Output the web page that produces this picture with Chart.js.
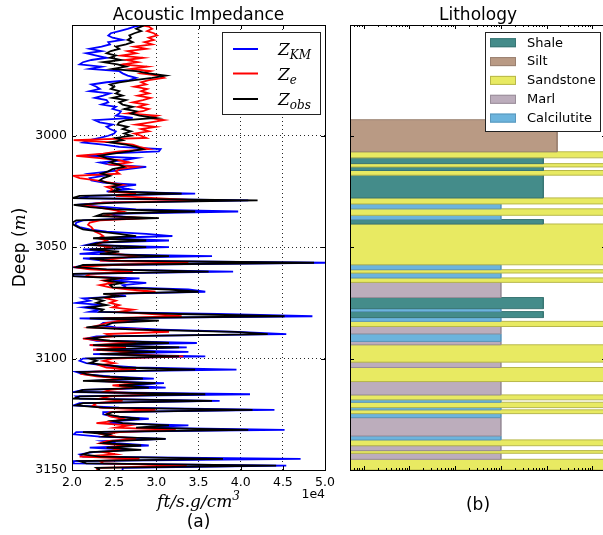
<!DOCTYPE html>
<html>
<head>
<meta charset="utf-8">
<script src="https://cdn.jsdelivr.net/npm/chart.js@4.4.1/dist/chart.umd.min.js"></script>
<style>
  html, body { margin: 0; padding: 0; background: #fff; overflow: hidden; width: 603px; height: 535px; }
  #imp { position: absolute; left: 0; top: 0; }
  #lith { position: absolute; left: 340px; top: 0; }
</style>
</head>
<body>
<canvas id="imp" width="340" height="535"></canvas>
<canvas id="lith" width="280" height="535"></canvas>
<script>
// ---- acoustic impedance logs (x 1e4 ft/s.g/cm3), one sample per metre ----
const depth = [
  2950, 2951, 2952, 2953, 2954, 2955, 2956, 2957, 2958, 2959,
  2960, 2961, 2962, 2963, 2964, 2965, 2966, 2967, 2968, 2969,
  2970, 2971, 2972, 2973, 2974, 2975, 2976, 2977, 2978, 2979,
  2980, 2981, 2982, 2983, 2984, 2985, 2986, 2987, 2988, 2989,
  2990, 2991, 2992, 2993, 2994, 2995, 2996, 2997, 2998, 2999,
  3000, 3001, 3002, 3003, 3004, 3005, 3006, 3007, 3008, 3009,
  3010, 3011, 3012, 3013, 3014, 3015, 3016, 3017, 3018, 3019,
  3020, 3021, 3022, 3023, 3024, 3025, 3026, 3027, 3028, 3029,
  3030, 3031, 3032, 3033, 3034, 3035, 3036, 3037, 3038, 3039,
  3040, 3041, 3042, 3043, 3044, 3045, 3046, 3047, 3048, 3049,
  3050, 3051, 3052, 3053, 3054, 3055, 3056, 3057, 3058, 3059,
  3060, 3061, 3062, 3063, 3064, 3065, 3066, 3067, 3068, 3069,
  3070, 3071, 3072, 3073, 3074, 3075, 3076, 3077, 3078, 3079,
  3080, 3081, 3082, 3083, 3084, 3085, 3086, 3087, 3088, 3089,
  3090, 3091, 3092, 3093, 3094, 3095, 3096, 3097, 3098, 3099,
  3100, 3101, 3102, 3103, 3104, 3105, 3106, 3107, 3108, 3109,
  3110, 3111, 3112, 3113, 3114, 3115, 3116, 3117, 3118, 3119,
  3120, 3121, 3122, 3123, 3124, 3125, 3126, 3127, 3128, 3129,
  3130, 3131, 3132, 3133, 3134, 3135, 3136, 3137, 3138, 3139,
  3140, 3141, 3142, 3143, 3144, 3145, 3146, 3147, 3148, 3149,
  3150
];

const zKM = [
  2.88, 2.74, 2.66, 2.56, 2.46, 2.43, 2.48, 2.60, 2.43, 2.45,
  2.35, 2.21, 2.35, 2.17, 2.29, 2.41, 2.23, 2.13, 2.09, 2.35,
  2.21, 2.56, 2.60, 2.66, 2.76, 2.68, 2.41, 2.23, 2.29, 2.33,
  2.21, 2.45, 2.37, 2.27, 2.41, 2.43, 2.35, 2.52, 2.48, 2.58,
  2.56, 2.52, 2.72, 2.27, 2.33, 2.48, 2.41, 2.45, 2.52, 2.50,
  2.43, 2.33, 2.21, 2.13, 2.37, 2.56, 3.05, 3.03, 2.41, 2.17,
  2.76, 2.60, 2.33, 2.45, 2.88, 2.66, 2.45, 2.21, 2.37, 2.21,
  2.23, 2.37, 2.76, 2.52, 2.68, 2.41, 3.46, 2.21, 2.09, 4.09,
  2.37, 2.05, 2.41, 2.76, 3.97, 2.45, 2.52, 2.80, 2.13, 2.05,
  2.04, 2.09, 2.21, 2.41, 2.88, 3.19, 2.33, 3.15, 2.29, 2.17,
  3.15, 2.13, 2.41, 2.09, 3.66, 2.13, 2.37, 5.00, 2.21, 2.02,
  2.33, 3.91, 2.00, 2.02, 2.80, 2.48, 2.88, 2.60, 2.64, 3.38,
  3.58, 2.45, 2.64, 2.13, 2.21, 2.05, 2.37, 2.13, 2.33, 2.21,
  3.73, 4.85, 2.09, 2.91, 2.37, 2.33, 2.52, 3.07, 3.97, 4.54,
  2.29, 2.17, 2.29, 3.48, 2.21, 3.36, 2.25, 3.38, 2.25, 3.58,
  2.13, 2.09, 2.17, 2.37, 2.76, 3.95, 2.05, 2.13, 2.45, 2.97,
  2.21, 3.09, 2.64, 3.11, 2.13, 2.02, 4.11, 2.05, 2.09, 3.75,
  2.09, 2.02, 2.56, 4.40, 2.37, 2.37, 2.48, 2.91, 2.56, 2.45,
  3.38, 2.84, 4.52, 2.05, 2.02, 2.33, 3.11, 2.37, 2.52, 2.91,
  2.21, 2.68, 2.25, 2.09, 2.13, 4.71, 2.02, 2.02, 4.54, 2.60,
  2.60
];

const zE = [
  2.76, 2.91, 2.95, 2.89, 2.97, 3.01, 2.91, 2.97, 2.86, 2.95,
  2.74, 2.88, 2.66, 2.76, 2.58, 2.84, 2.64, 2.78, 2.60, 2.89,
  2.70, 2.93, 2.82, 3.03, 3.09, 2.91, 2.82, 2.88, 2.74, 2.89,
  2.82, 2.91, 2.78, 2.93, 2.84, 2.72, 2.88, 2.78, 2.91, 2.84,
  2.66, 3.01, 2.91, 3.09, 2.93, 2.76, 2.99, 2.82, 2.91, 2.74,
  2.82, 2.88, 2.02, 2.48, 2.72, 2.80, 2.91, 2.56, 2.37, 2.05,
  2.33, 2.56, 2.68, 2.48, 2.76, 2.56, 2.52, 2.56, 2.02, 2.09,
  2.29, 2.45, 2.60, 2.41, 2.48, 2.45, 2.76, 2.52, 2.99, 3.50,
  2.37, 2.13, 2.29, 2.45, 2.60, 2.48, 2.37, 2.91, 2.33, 2.21,
  2.19, 2.23, 2.25, 2.27, 2.33, 2.37, 2.31, 2.41, 2.35, 2.27,
  2.45, 2.37, 2.41, 2.52, 2.76, 2.56, 2.33, 3.38, 2.48, 2.02,
  2.21, 2.72, 2.21, 2.17, 2.56, 2.37, 2.48, 2.33, 2.45, 2.68,
  2.99, 2.45, 2.48, 2.41, 2.52, 2.45, 2.56, 2.48, 2.72, 2.56,
  2.95, 3.30, 2.37, 2.64, 2.41, 2.33, 2.21, 2.84, 3.15, 2.41,
  2.48, 2.13, 2.37, 2.76, 2.21, 2.64, 2.25, 2.68, 2.52, 3.32,
  2.48, 2.37, 2.50, 2.33, 2.41, 2.76, 2.21, 2.13, 2.29, 2.60,
  2.33, 2.80, 2.48, 2.72, 2.45, 2.37, 3.05, 2.45, 2.33, 2.60,
  2.29, 2.25, 2.33, 2.99, 2.45, 2.41, 2.45, 2.60, 2.52, 2.29,
  2.68, 2.52, 3.23, 2.56, 2.37, 2.52, 2.76, 2.41, 2.33, 2.64,
  2.45, 2.56, 2.37, 2.52, 2.09, 2.80, 2.33, 2.37, 3.36, 2.33,
  2.29
];

const zObs = [
  2.88, 2.82, 2.76, 2.82, 2.74, 2.68, 2.70, 2.66, 2.72, 2.64,
  2.52, 2.56, 2.46, 2.41, 2.52, 2.45, 2.58, 2.37, 2.54, 2.64,
  2.48, 2.76, 2.91, 3.11, 2.95, 2.74, 2.56, 2.45, 2.50, 2.46,
  2.56, 2.52, 2.60, 2.48, 2.64, 2.56, 2.60, 2.72, 2.62, 2.76,
  2.70, 2.80, 2.99, 2.64, 2.56, 2.54, 2.66, 2.60, 2.70, 2.62,
  2.70, 2.52, 2.60, 2.45, 2.64, 2.76, 2.84, 2.68, 2.48, 2.33,
  2.41, 2.52, 2.45, 2.56, 2.62, 2.48, 2.43, 2.35, 2.45, 2.37,
  2.33, 2.41, 2.56, 2.48, 2.56, 2.48, 3.30, 2.09, 2.00, 4.20,
  2.52, 2.02, 2.21, 2.52, 3.46, 2.37, 2.29, 3.03, 2.05, 2.00,
  2.02, 2.07, 2.13, 2.33, 2.56, 2.76, 2.25, 2.88, 2.33, 2.21,
  2.88, 2.21, 2.56, 2.33, 3.15, 2.21, 2.45, 4.87, 2.13, 2.05,
  2.41, 3.62, 2.02, 2.00, 2.56, 2.41, 2.60, 2.45, 2.48, 3.15,
  3.50, 2.37, 2.56, 2.25, 2.37, 2.29, 2.41, 2.21, 2.37, 2.33,
  3.27, 4.52, 2.21, 3.03, 2.48, 2.41, 2.17, 2.76, 3.93, 4.32,
  2.41, 2.21, 2.45, 3.15, 2.25, 3.27, 2.29, 2.99, 2.33, 3.27,
  2.21, 2.29, 2.21, 2.45, 2.60, 3.46, 2.09, 2.17, 2.37, 2.84,
  2.13, 2.99, 2.56, 2.91, 2.13, 2.05, 3.58, 2.09, 2.02, 3.66,
  2.13, 2.05, 2.37, 4.14, 2.48, 2.41, 2.56, 2.80, 2.48, 2.60,
  3.15, 2.76, 4.09, 2.13, 2.45, 2.37, 3.11, 2.48, 2.37, 2.82,
  2.41, 2.82, 2.21, 2.13, 2.33, 3.79, 2.09, 2.17, 4.42, 2.29,
  2.33
];

const impTicks = [2.0, 2.5, 3.0, 3.5, 4.0, 4.5, 5.0];
const depthTicks = [3000, 3050, 3100, 3150];
const depthMin = 2950.3;
const depthMax = 3150;

// ---- lithology column ----
const lithNames = ['Shale', 'Silt', 'Sandstone', 'Marl', 'Calcilutite'];
const lithColors = ['#448c8a', '#b99a84', '#e8ea62', '#bcadbc', '#6cb4dd'];
const lithEdges = ['#3a7674', '#9a8070', '#b8b84a', '#9a8e9a', '#5a98bd'];
const lithLength = [8500, 17000, 1000000, 1000, 1000];
const lithMin = 0.5;
const lithMax = 200000;
const logDecades = [0.1, 1, 10, 100, 1000, 10000, 100000];
const logSteps = [1, 2, 3, 4, 5, 6, 7, 8, 9];

const layerTop = [
  2992.8, 3007.2, 3009.9, 3012.5, 3014.0, 3015.6, 3017.7, 3027.9, 3030.6, 3032.8,
  3035.7, 3037.6, 3039.6, 3057.9, 3060.1, 3061.6, 3063.8, 3065.8, 3072.6, 3077.6,
  3078.9, 3081.6, 3083.3, 3085.6, 3088.9, 3092.3, 3093.8, 3101.6, 3104.0, 3110.3,
  3116.3, 3118.5, 3119.6, 3122.0, 3123.0, 3124.7, 3126.5, 3134.7, 3136.5, 3139.1,
  3141.3, 3142.5, 3145.2
];
const layerBase = [
  3007.2, 3009.9, 3012.5, 3014.0, 3015.6, 3017.7, 3027.9, 3030.6, 3032.8, 3035.7,
  3037.6, 3039.6, 3057.9, 3060.1, 3061.6, 3063.8, 3065.8, 3072.6, 3077.6, 3078.9,
  3081.6, 3083.3, 3085.6, 3088.9, 3092.3, 3093.8, 3101.6, 3104.0, 3110.3, 3116.3,
  3118.5, 3119.6, 3122.0, 3123.0, 3124.7, 3126.5, 3134.7, 3136.5, 3139.1, 3141.3,
  3142.5, 3145.2, 3150.0
];
const layerType = [
  'Silt', 'Sandstone', 'Shale', 'Sandstone', 'Shale', 'Sandstone', 'Shale', 'Sandstone', 'Calcilutite', 'Sandstone',
  'Calcilutite', 'Shale', 'Sandstone', 'Calcilutite', 'Sandstone', 'Calcilutite', 'Sandstone', 'Marl', 'Shale', 'Calcilutite',
  'Shale', 'Calcilutite', 'Sandstone', 'Marl', 'Calcilutite', 'Marl', 'Sandstone', 'Marl', 'Sandstone', 'Marl',
  'Sandstone', 'Calcilutite', 'Sandstone', 'Calcilutite', 'Sandstone', 'Calcilutite', 'Marl', 'Calcilutite', 'Sandstone', 'Marl',
  'Sandstone', 'Marl', 'Sandstone'
];

const sansFont = '"DejaVu Sans", sans-serif';
const mathFont = '"DejaVu Serif", serif';

// draws a row of text pieces [text, font, dy] starting at x (aligned) on baseline y
function drawParts(ctx, parts, x, y, align) {
  let total = 0;
  parts.forEach(p => { ctx.font = p[1]; total += ctx.measureText(p[0]).width; });
  let cx = align === 'center' ? x - total / 2 : (align === 'right' ? x - total : x);
  ctx.textAlign = 'left';
  ctx.textBaseline = 'alphabetic';
  parts.forEach(p => {
    ctx.font = p[1];
    ctx.fillText(p[0], cx, y + (p[2] || 0));
    cx += ctx.measureText(p[0]).width;
  });
}

function drawFrame(ctx, area) {
  ctx.save();
  ctx.strokeStyle = '#000';
  ctx.lineWidth = 1;
  ctx.strokeRect(Math.floor(area.left) + 0.5, Math.floor(area.top) + 0.5,
    Math.round(area.right - area.left), Math.round(area.bottom - area.top));
  ctx.restore();
}

function tickX(ctx, area, px, len) {
  const x = Math.round(px) + 0.5;
  ctx.beginPath();
  ctx.moveTo(x, area.bottom); ctx.lineTo(x, area.bottom - len);
  ctx.moveTo(x, area.top); ctx.lineTo(x, area.top + len);
  ctx.stroke();
}

function tickY(ctx, area, py, len) {
  const y = Math.round(py) + 0.5;
  ctx.beginPath();
  ctx.moveTo(area.left, y); ctx.lineTo(area.left + len, y);
  ctx.moveTo(area.right, y); ctx.lineTo(area.right - len, y);
  ctx.stroke();
}

// ---------------- left panel ----------------
const impDecor = {
  id: 'impDecor',
  afterDraw(chart) {
    const ctx = chart.ctx;
    const area = chart.chartArea;
    const xs = chart.scales.x, ys = chart.scales.y;
    drawFrame(ctx, area);

    ctx.save();
    ctx.strokeStyle = '#000';
    ctx.lineWidth = 1;
    impTicks.forEach(v => tickX(ctx, area, xs.getPixelForValue(v), 4));
    depthTicks.forEach(v => tickY(ctx, area, ys.getPixelForValue(v), 4));

    // legend
    ctx.fillStyle = '#fff';
    ctx.fillRect(222, 32, 98, 82);
    ctx.strokeStyle = '#222';
    ctx.strokeRect(222.5, 32.5, 98, 82);
    const entries = [
      [chart.data.datasets[2].borderColor, [['Z', 'italic 17px ' + mathFont], ['KM', 'italic 12px ' + mathFont, 4]]],
      [chart.data.datasets[1].borderColor, [['Z', 'italic 17px ' + mathFont], ['e', 'italic 12px ' + mathFont, 4]]],
      [chart.data.datasets[0].borderColor, [['Z', 'italic 17px ' + mathFont], ['obs', 'italic 12px ' + mathFont, 4]]]
    ];
    const rowY = [49, 73.5, 99];
    entries.forEach((e, i) => {
      ctx.strokeStyle = e[0];
      ctx.lineWidth = 2;
      ctx.beginPath();
      ctx.moveTo(233, rowY[i]); ctx.lineTo(258, rowY[i]);
      ctx.stroke();
      ctx.fillStyle = '#000';
      drawParts(ctx, e[1], 278, rowY[i] + 6, 'left');
    });

    // titles and labels
    ctx.fillStyle = '#000';
    const cx = (area.left + area.right) / 2;
    drawParts(ctx, [['Acoustic Impedance', '17px ' + sansFont]], cx, 20, 'center');
    drawParts(ctx, [['ft/s.g/cm', 'italic 17px ' + mathFont], ['3', 'italic 12px ' + mathFont, -7]], cx, 507, 'center');
    drawParts(ctx, [['(a)', '17px ' + sansFont]], cx, 527, 'center');
    drawParts(ctx, [['1e4', '12.5px ' + sansFont]], area.right, 498, 'right');

    ctx.translate(25, (area.top + area.bottom) / 2);
    ctx.rotate(-Math.PI / 2);
    drawParts(ctx, [['Deep (', '17px ' + sansFont], ['m', 'italic 17px ' + mathFont], [')', '17px ' + sansFont]], 0, 0, 'center');
    ctx.restore();
  }
};

const lineSet = (label, values, color, order) => ({
  label,
  data: depth.map((d, i) => ({ x: values[i], y: d })),
  borderColor: color,
  backgroundColor: color,
  borderWidth: 1.8,
  pointRadius: 0,
  tension: 0,
  fill: false,
  order
});

new Chart(document.getElementById('imp'), {
  type: 'line',
  data: {
    datasets: [
      lineSet('Z_obs', zObs, '#000000', 0),
      lineSet('Z_e', zE, '#ff0000', 1),
      lineSet('Z_KM', zKM, '#0000ff', 2)
    ]
  },
  options: {
    indexAxis: 'y',
    responsive: false,
    animation: false,
    events: [],
    layout: { padding: { top: 25, right: 12, left: 0, bottom: 0 } },
    plugins: { legend: { display: false }, tooltip: { enabled: false } },
    scales: {
      x: {
        type: 'linear',
        position: 'bottom',
        min: 2.0,
        max: 5.0,
        afterBuildTicks: s => { s.ticks = impTicks.map(v => ({ value: v })); },
        afterFit: s => { s.height = 65; },
        ticks: {
          color: '#000',
          padding: 5,
          maxRotation: 0,
          font: { family: sansFont, size: 12.5 },
          callback: v => Number(v).toFixed(1)
        },
        grid: { color: 'rgba(0,0,0,0.85)', lineWidth: 1, drawTicks: false },
        border: { display: false, dash: [1, 3] }
      },
      y: {
        type: 'linear',
        reverse: true,
        min: depthMin,
        max: depthMax,
        afterBuildTicks: s => { s.ticks = depthTicks.map(v => ({ value: v })); },
        afterFit: s => { s.width = 72; },
        ticks: {
          color: '#000',
          padding: 5,
          font: { family: sansFont, size: 12.5 },
          callback: v => String(v)
        },
        grid: { color: 'rgba(0,0,0,0.85)', lineWidth: 1, drawTicks: false },
        border: { display: false, dash: [1, 3] }
      }
    }
  },
  plugins: [impDecor]
});

// ---------------- right panel ----------------
const lithDecor = {
  id: 'lithDecor',
  afterDraw(chart) {
    const ctx = chart.ctx;
    const area = chart.chartArea;
    const xs = chart.scales.x, ys = chart.scales.y;
    drawFrame(ctx, area);

    ctx.save();
    ctx.strokeStyle = '#000';
    ctx.lineWidth = 1;
    logDecades.forEach(dec => {
      logSteps.forEach(m => {
        const v = dec * m;
        if (v < lithMin || v > lithMax) return;
        tickX(ctx, area, xs.getPixelForValue(v), m === 1 ? 4 : 2);
      });
    });
    depthTicks.forEach(v => tickY(ctx, area, ys.getPixelForValue(v), 4));

    // legend
    ctx.fillStyle = '#fff';
    ctx.fillRect(145, 32, 115, 99);
    ctx.strokeStyle = '#222';
    ctx.strokeRect(145.5, 32.5, 115, 99);
    const rowY = [42.7, 61.6, 80.4, 99.3, 118.1];
    lithNames.forEach((n, i) => {
      ctx.fillStyle = lithColors[i];
      ctx.fillRect(150, rowY[i] - 4.5, 26, 9);
      ctx.strokeStyle = lithEdges[i];
      ctx.strokeRect(150.5, rowY[i] - 4, 25, 8);
      ctx.fillStyle = '#000';
      ctx.font = '13px ' + sansFont;
      ctx.textAlign = 'left';
      ctx.textBaseline = 'middle';
      ctx.fillText(n, 187, rowY[i] + 0.5);
    });

    ctx.fillStyle = '#000';
    const cx = (area.left + area.right) / 2;
    drawParts(ctx, [['Lithology', '17px ' + sansFont]], cx, 20, 'center');
    drawParts(ctx, [['(b)', '17px ' + sansFont]], cx, 510, 'center');
    ctx.restore();
  }
};

const layerSets = layerTop.map((top, i) => {
  const k = lithNames.indexOf(layerType[i]);
  const w = lithLength[k];
  return {
    label: layerType[i],
    data: [
      { x: lithMin, y: top },
      { x: w, y: top },
      { x: w, y: layerBase[i] },
      { x: lithMin, y: layerBase[i] }
    ],
    backgroundColor: lithColors[k],
    borderColor: lithEdges[k],
    borderWidth: 1,
    pointRadius: 0,
    tension: 0,
    fill: { value: lithMin }
  };
});

new Chart(document.getElementById('lith'), {
  type: 'line',
  data: { datasets: layerSets },
  options: {
    indexAxis: 'y',
    responsive: false,
    animation: false,
    events: [],
    layout: { padding: { top: 25, right: 14, left: 10, bottom: 65 } },
    plugins: { legend: { display: false }, tooltip: { enabled: false } },
    scales: {
      x: {
        type: 'logarithmic',
        min: lithMin,
        max: lithMax,
        afterFit: s => { s.height = 0; },
        ticks: { display: false },
        grid: { display: false },
        border: { display: false }
      },
      y: {
        type: 'linear',
        reverse: true,
        min: depthMin,
        max: depthMax,
        afterFit: s => { s.width = 0; },
        ticks: { display: false },
        grid: { display: false },
        border: { display: false }
      }
    }
  },
  plugins: [lithDecor]
});
</script>
</body>
</html>
